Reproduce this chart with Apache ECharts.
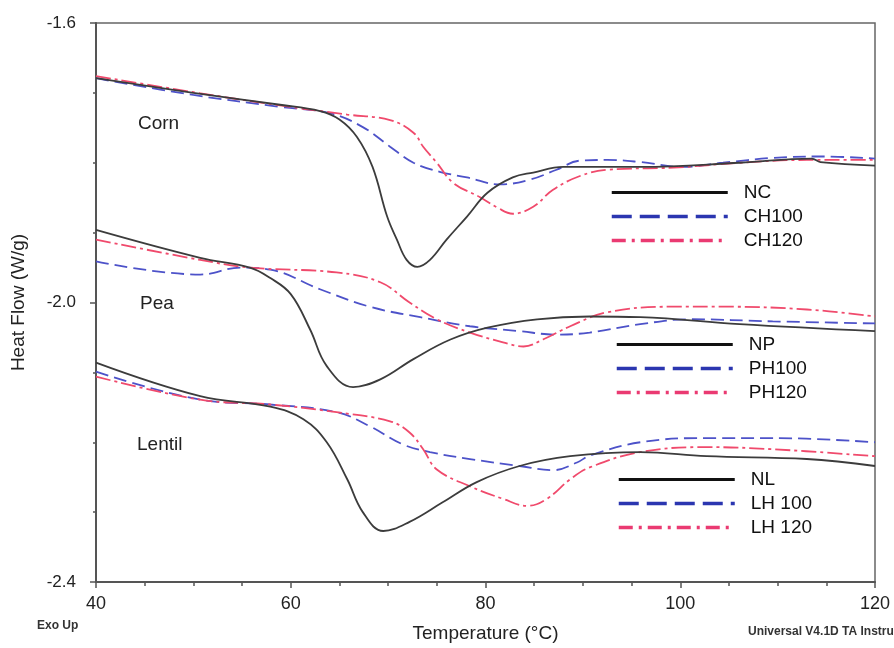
<!DOCTYPE html>
<html><head><meta charset="utf-8">
<script src="https://cdn.jsdelivr.net/npm/echarts@6/dist/echarts.min.js"></script>
<style>html,body{margin:0;padding:0;background:#fff}#c{width:894px;height:648px}</style>
</head><body><div id="c"></div>
<script>
// Temperature (°C) vs Heat Flow (W/g)
const xRange = [40, 120];
const yRange = [-2.4, -1.6];
const groupLabels = ['Corn', 'Pea', 'Lentil'];

const NC = [[40,-1.679],[50,-1.700],[58.9,-1.717],[63.0,-1.726],[65.0,-1.738],[66.8,-1.763],[68.4,-1.806],[69.9,-1.877],[70.9,-1.910],[71.9,-1.939],[73.0,-1.949],[74.3,-1.939],[76.0,-1.910],[78.1,-1.877],[80.2,-1.843],[82.8,-1.821],[84.9,-1.814],[88.0,-1.806],[95.9,-1.806],[106.1,-1.800],[113.5,-1.794],[114.4,-1.799],[120,-1.804]];
const CH100 = [[40,-1.679],[50,-1.703],[58.9,-1.720],[64.0,-1.729],[67.4,-1.749],[70.2,-1.777],[72.6,-1.800],[75.3,-1.813],[78.1,-1.821],[81.5,-1.831],[84.6,-1.824],[87.3,-1.810],[89.7,-1.797],[92.5,-1.796],[95.9,-1.799],[100.3,-1.806],[104.4,-1.800],[109.5,-1.793],[114.4,-1.791],[120,-1.794]];
const CH120 = [[40,-1.676],[50,-1.699],[58.9,-1.718],[65.8,-1.731],[70.2,-1.739],[72.6,-1.757],[73.6,-1.777],[75.0,-1.800],[76.7,-1.829],[79.4,-1.849],[81.2,-1.864],[82.8,-1.873],[84.9,-1.863],[86.9,-1.839],[89.7,-1.819],[92.5,-1.810],[99.3,-1.807],[106.1,-1.800],[113.0,-1.796],[120,-1.796]];

const NP = [[40,-1.896],[50.7,-1.936],[55.8,-1.950],[57.9,-1.965],[60,-1.988],[62,-2.039],[63.7,-2.091],[66.4,-2.121],[69.2,-2.110],[72.6,-2.081],[76.4,-2.053],[80.2,-2.036],[85.3,-2.024],[90.7,-2.020],[95.9,-2.021],[106.1,-2.031],[120,-2.041]];
const PH100 = [[40,-1.941],[50.7,-1.960],[54.8,-1.950],[57.9,-1.953],[63,-1.981],[68.1,-2.006],[73.3,-2.021],[78.4,-2.034],[83.5,-2.041],[87.3,-2.046],[90.7,-2.043],[95.9,-2.031],[101.0,-2.024],[109.5,-2.027],[120,-2.030]];
const PH120 = [[40,-1.910],[50.7,-1.939],[55.8,-1.950],[64.7,-1.957],[69.2,-1.971],[72.2,-2.000],[75.0,-2.024],[78.4,-2.043],[81.8,-2.057],[83.9,-2.063],[85.9,-2.053],[88.7,-2.034],[92.5,-2.014],[99.3,-2.006],[104.4,-2.006],[113,-2.010],[120,-2.020]];

const NL = [[40,-2.086],[50.7,-2.134],[57.9,-2.149],[61.3,-2.167],[63.7,-2.200],[65.8,-2.253],[67.4,-2.300],[69.5,-2.327],[72.2,-2.314],[75.6,-2.286],[79.1,-2.257],[83.5,-2.234],[88.7,-2.220],[95.9,-2.214],[102.7,-2.220],[113,-2.224],[120,-2.234]];
const LH100 = [[40,-2.099],[50.7,-2.139],[57.9,-2.146],[64.7,-2.157],[68.1,-2.177],[71.5,-2.203],[74.3,-2.214],[78.4,-2.224],[83.5,-2.234],[86.9,-2.240],[89.4,-2.229],[90.7,-2.219],[95.9,-2.200],[102.7,-2.194],[109.5,-2.194],[120,-2.200]];
const LH120 = [[40,-2.106],[50.7,-2.139],[57.9,-2.146],[64.7,-2.157],[70.2,-2.170],[72.2,-2.186],[73.6,-2.210],[75.0,-2.239],[78.4,-2.263],[81.8,-2.281],[84.3,-2.291],[86.3,-2.281],[88.7,-2.253],[90.7,-2.236],[95.9,-2.214],[102.7,-2.207],[109.5,-2.210],[120,-2.220]];

const seriesDefs = [
  ['NC', NC, 'n'], ['CH100', CH100, 'd'], ['CH120', CH120, 'dd'],
  ['NP', NP, 'n'], ['PH100', PH100, 'd'], ['PH120', PH120, 'dd'],
  ['NL', NL, 'n'], ['LH 100', LH100, 'd'], ['LH 120', LH120, 'dd']
];
const styles = {
  n:  {color: '#3c3c3c', type: 'solid', width: 1.8},
  d:  {color: '#4d52c9', type: [13, 6], width: 1.8},
  dd: {color: '#f04a6c', type: [15, 4, 3, 4], width: 1.8}
};
const legendStyles = {
  n:  {color: '#111111', type: 'solid', width: 3},
  d:  {color: '#2b36b0', type: [20, 8], width: 3.5},
  dd: {color: '#ea3a72', type: [14, 6, 3, 6], width: 3.5}
};

const chart = echarts.init(document.getElementById('c'), null, {renderer: 'canvas'});
const FONT = 'Liberation Sans, Arial, sans-serif';

function legendFor(names, kinds, left, top) {
  return {
    orient: 'vertical', left: left, top: top, padding: 0,
    itemWidth: 116, itemHeight: 14, itemGap: 5,
    selectedMode: false,
    textStyle: {fontFamily: FONT, fontSize: 19, color: '#111', padding: [0, 0, 0, 11]},
    data: names.map((n, i) => ({name: n, lineStyle: legendStyles[kinds[i]], itemStyle: {opacity: 0}}))
  };
}

chart.setOption({
  animation: false,
  backgroundColor: '#fff',
  grid: {left: 96, right: 19, top: 23, bottom: 65, show: true, borderColor: '#666', borderWidth: 1.5},
  xAxis: {
    type: 'value', min: xRange[0], max: xRange[1], interval: 20,
    name: 'Temperature (°C)', nameLocation: 'middle', nameGap: 42,
    nameTextStyle: {fontFamily: FONT, fontSize: 19, color: '#222'},
    axisLine: {show: true, onZero: false, lineStyle: {color: '#555', width: 2}},
    axisTick: {show: true, inside: false, length: 6, lineStyle: {color: '#555', width: 1.5}},
    minorTick: {show: true, splitNumber: 4, length: 4, lineStyle: {color: '#555', width: 1.5}},
    axisLabel: {fontFamily: FONT, fontSize: 18, color: '#222', margin: 13},
    splitLine: {show: false}
  },
  yAxis: {
    type: 'value', min: yRange[0], max: yRange[1], interval: 0.4,
    name: 'Heat Flow (W/g)', nameLocation: 'middle', nameGap: 68,
    nameTextStyle: {fontFamily: FONT, fontSize: 19, color: '#222'},
    axisLine: {show: true, onZero: false, lineStyle: {color: '#555', width: 2}},
    axisTick: {show: true, inside: false, length: 6, lineStyle: {color: '#555', width: 1.5}},
    minorTick: {show: true, splitNumber: 4, length: 3, lineStyle: {color: '#555', width: 1.5}},
    axisLabel: {fontFamily: FONT, fontSize: 17, color: '#222', margin: 20, formatter: v => v.toFixed(1)},
    splitLine: {show: false}
  },
  legend: [
    legendFor(['NC', 'CH100', 'CH120'], ['n', 'd', 'dd'], 610, 183),
    legendFor(['NP', 'PH100', 'PH120'], ['n', 'd', 'dd'], 615, 335),
    legendFor(['NL', 'LH 100', 'LH 120'], ['n', 'd', 'dd'], 617, 470)
  ],
  graphic: [
    {type: 'text', left: 138, top: 114, style: {text: groupLabels[0], font: '19px ' + FONT, fill: '#222'}},
    {type: 'text', left: 140, top: 294, style: {text: groupLabels[1], font: '19px ' + FONT, fill: '#222'}},
    {type: 'text', left: 137, top: 435, style: {text: groupLabels[2], font: '19px ' + FONT, fill: '#222'}},
    {type: 'text', left: 37, top: 620, style: {text: 'Exo Up', font: 'bold 12px ' + FONT, fill: '#333'}},
    {type: 'text', left: 748, top: 626, style: {text: 'Universal V4.1D TA Instruments', font: 'bold 12px ' + FONT, fill: '#333'}}
  ],
  series: seriesDefs.map(([name, data, kind]) => ({
    name: name, type: 'line', data: data, smooth: 0.4, symbol: 'none',
    lineStyle: styles[kind], itemStyle: {color: styles[kind].color},
    emphasis: {disabled: true}, z: kind === 'n' ? 3 : 2
  }))
});
</script>
</body></html>
